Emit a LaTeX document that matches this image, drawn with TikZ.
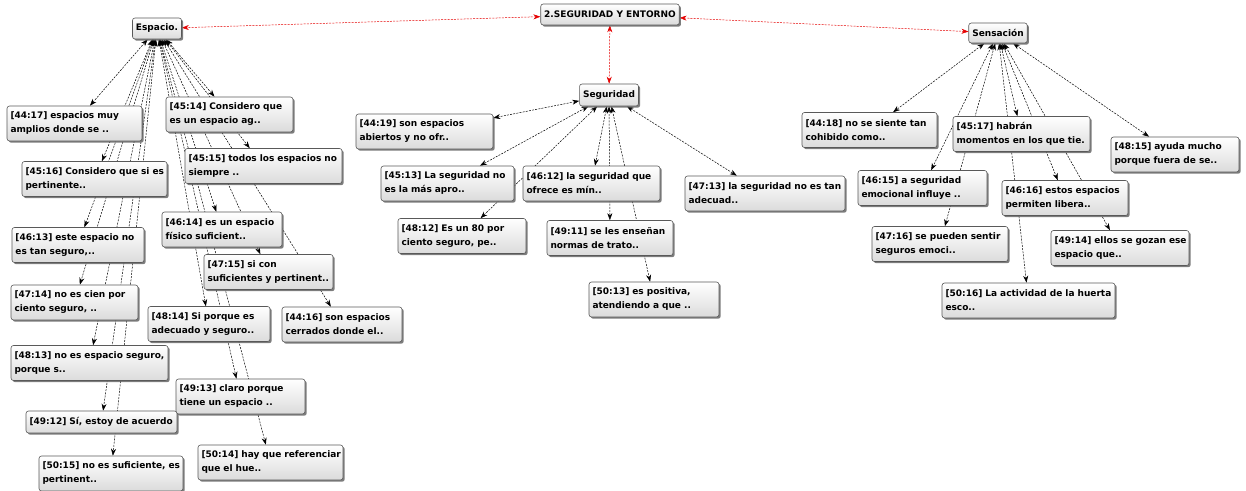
\documentclass[tikz,border=0pt]{standalone}
\usepackage{fontspec}
\setmainfont{DejaVu Sans}
\usepackage{tikz}
\usetikzlibrary{arrows.meta}
\usetikzlibrary{shadows,backgrounds}
\newcommand{\lns}[2]{\mbox{#1}\\\mbox{#2}}

\tikzset{
  >={Stealth[length=7pt,width=5pt]},
  box/.style={draw=black!65, line width=0.6pt, rounded corners=2.5pt,
    top color=white, bottom color=black!14,
    drop shadow={shadow xshift=1.7pt, shadow yshift=-1.7pt, fill=black!60, opacity=0.85},
    font=\bfseries\fontsize{9}{14}\selectfont, inner xsep=3.5pt, inner ysep=3pt},
  cita/.style={box, text width=#1pt, align=left, minimum height=35pt},
  link/.style={<->, black, line width=0.5pt, dash pattern=on 2pt off 1.2pt},
  redlink/.style={link, red!90!black},
}

\begin{document}
\begin{tikzpicture}[x=1pt, y=-1pt]
    \useasboundingbox (0,0) rectangle (1246,490);
    % codes
    \node[box, minimum height=21pt] (R) at (610,14.5) {2.SEGURIDAD Y ENTORNO};
    \node[box, minimum height=21pt] (E) at (157,28.5) {Espacio.};
    \node[box, minimum height=22pt] (S) at (609,95) {Seguridad};
    \node[box, minimum height=20pt] (N) at (998,33) {Sensación};
    % quotations of Espacio.
    \node[cita=128] (e4417) at (74.5,123.5) {\lns{[44:17] espacios muy}{amplios donde se ..}};
    \node[cita=120] (e4514) at (229.5,114.5) {\lns{[45:14] Considero que}{es un espacio ag..}};
    \node[cita=138] (e4516) at (94.5,179) {\lns{[45:16] Considero que si es}{pertinente..}};
    \node[cita=150] (e4515) at (263.5,166) {\lns{[45:15] todos los espacios no}{siempre ..}};
    \node[cita=113] (e4614) at (222,229.5) {\lns{[46:14] es un espacio}{físico suficient..}};
    \node[cita=125] (e4613) at (78,245) {\lns{[46:13] este espacio no}{es tan seguro,..}};
    \node[cita=122] (e4715) at (268.5,272) {\lns{[47:15] si con}{suficientes y pertinent..}};
    \node[cita=120] (e4714) at (74.5,302.5) {\lns{[47:14] no es cien por}{ciento seguro, ..}};
    \node[cita=115] (e4814) at (209,324) {\lns{[48:14] Si porque es}{adecuado y seguro..}};
    \node[cita=113] (e4416) at (342,324.5) {\lns{[44:16] son espacios}{cerrados donde el..}};
    \node[cita=150] (e4813) at (89.5,363) {\lns{[48:13] no es espacio seguro,}{porque s..}};
    \node[cita=122] (e4913) at (240.5,396.5) {\lns{[49:13] claro porque}{tiene un espacio ..}};
    \node[cita=144, minimum height=22pt] (e4912) at (101.5,422) {\mbox{[49:12] Sí, estoy de acuerdo}};
    \node[cita=138] (e5014) at (270.5,462.5) {\lns{[50:14] hay que referenciar}{que el hue..}};
    \node[cita=137] (e5015) at (111,473.5) {\lns{[50:15] no es suficiente, es}{pertinent..}};
    % quotations of Seguridad
    \node[cita=130] (s4419) at (424.5,131.5) {\lns{[44:19] son espacios}{abiertos y no ofr..}};
    \node[cita=126] (s4513) at (447.5,183.5) {\lns{[45:13] La seguridad no}{es la más apro..}};
    \node[cita=130] (s4612) at (591.5,183.5) {\lns{[46:12] la seguridad que}{ofrece es mín..}};
    \node[cita=153] (s4713) at (765,193.5) {\lns{[47:13] la seguridad no es tan}{adecuad..}};
    \node[cita=121] (s4812) at (462,236) {\lns{[48:12] Es un 80 por}{ciento seguro, pe..}};
    \node[cita=119] (s4911) at (610,238) {\lns{[49:11] se les enseñan}{normas de trato..}};
    \node[cita=123] (s5013) at (654,299.5) {\lns{[50:13] es positiva,}{atendiendo a que ..}};
    % quotations of Sensación
    \node[cita=128] (n4418) at (869.5,130) {\lns{[44:18] no se siente tan}{cohibido como..}};
    \node[cita=130] (n4517) at (1021.5,134) {\lns{[45:17] habrán}{momentos en los que tie.}};
    \node[cita=121] (n4815) at (1175,154.5) {\lns{[48:15] ayuda mucho}{porque fuera de se..}};
    \node[cita=122] (n4615) at (922.5,188) {\lns{[46:15] a seguridad}{emocional influye ..}};
    \node[cita=119] (n4616) at (1065,198) {\lns{[46:16] estos espacios}{permiten libera..}};
    \node[cita=129] (n4716) at (940,244) {\lns{[47:16] se pueden sentir}{seguros emoci..}};
    \node[cita=131] (n4914) at (1120,248) {\lns{[49:14] ellos se gozan ese}{espacio que..}};
    \node[cita=166] (n5016) at (1028.5,300.5) {\lns{[50:16] La actividad de la huerta}{esco..}};
    \begin{scope}[on background layer]
    \draw[redlink] (R) to (E);
    \draw[redlink] (R) to (S);
    \draw[redlink] (R) to (N);
    \draw[link] (E) to (e4417);
    \draw[link] (E) to (e4514);
    \draw[link] (E) to (e4516);
    \draw[link] (E) to (e4515);
    \draw[link] (E) to (e4614);
    \draw[link] (E) to (e4613);
    \draw[link] (E) to (e4715);
    \draw[link] (E) to (e4714);
    \draw[link] (E) to (e4814);
    \draw[link] (E) to (e4416);
    \draw[link] (E) to (e4813);
    \draw[link] (E) to (e4913);
    \draw[link] (E) to (e4912);
    \draw[link] (E) to (e5014);
    \draw[link] (E) to (e5015);
    \draw[link] (S) to (s4419);
    \draw[link] (S) to (s4513);
    \draw[link] (S) to (s4612);
    \draw[link] (S) to (s4713);
    \draw[link] (S) to (s4812);
    \draw[link] (S) to (s4911);
    \draw[link] (S) to (s5013);
    \draw[link] (N) to (n4418);
    \draw[link] (N) to (n4517);
    \draw[link] (N) to (n4815);
    \draw[link] (N) to (n4615);
    \draw[link] (N) to (n4616);
    \draw[link] (N) to (n4716);
    \draw[link] (N) to (n4914);
    \draw[link] (N) to (n5016);
    \end{scope}
  \end{tikzpicture}
\end{document}
